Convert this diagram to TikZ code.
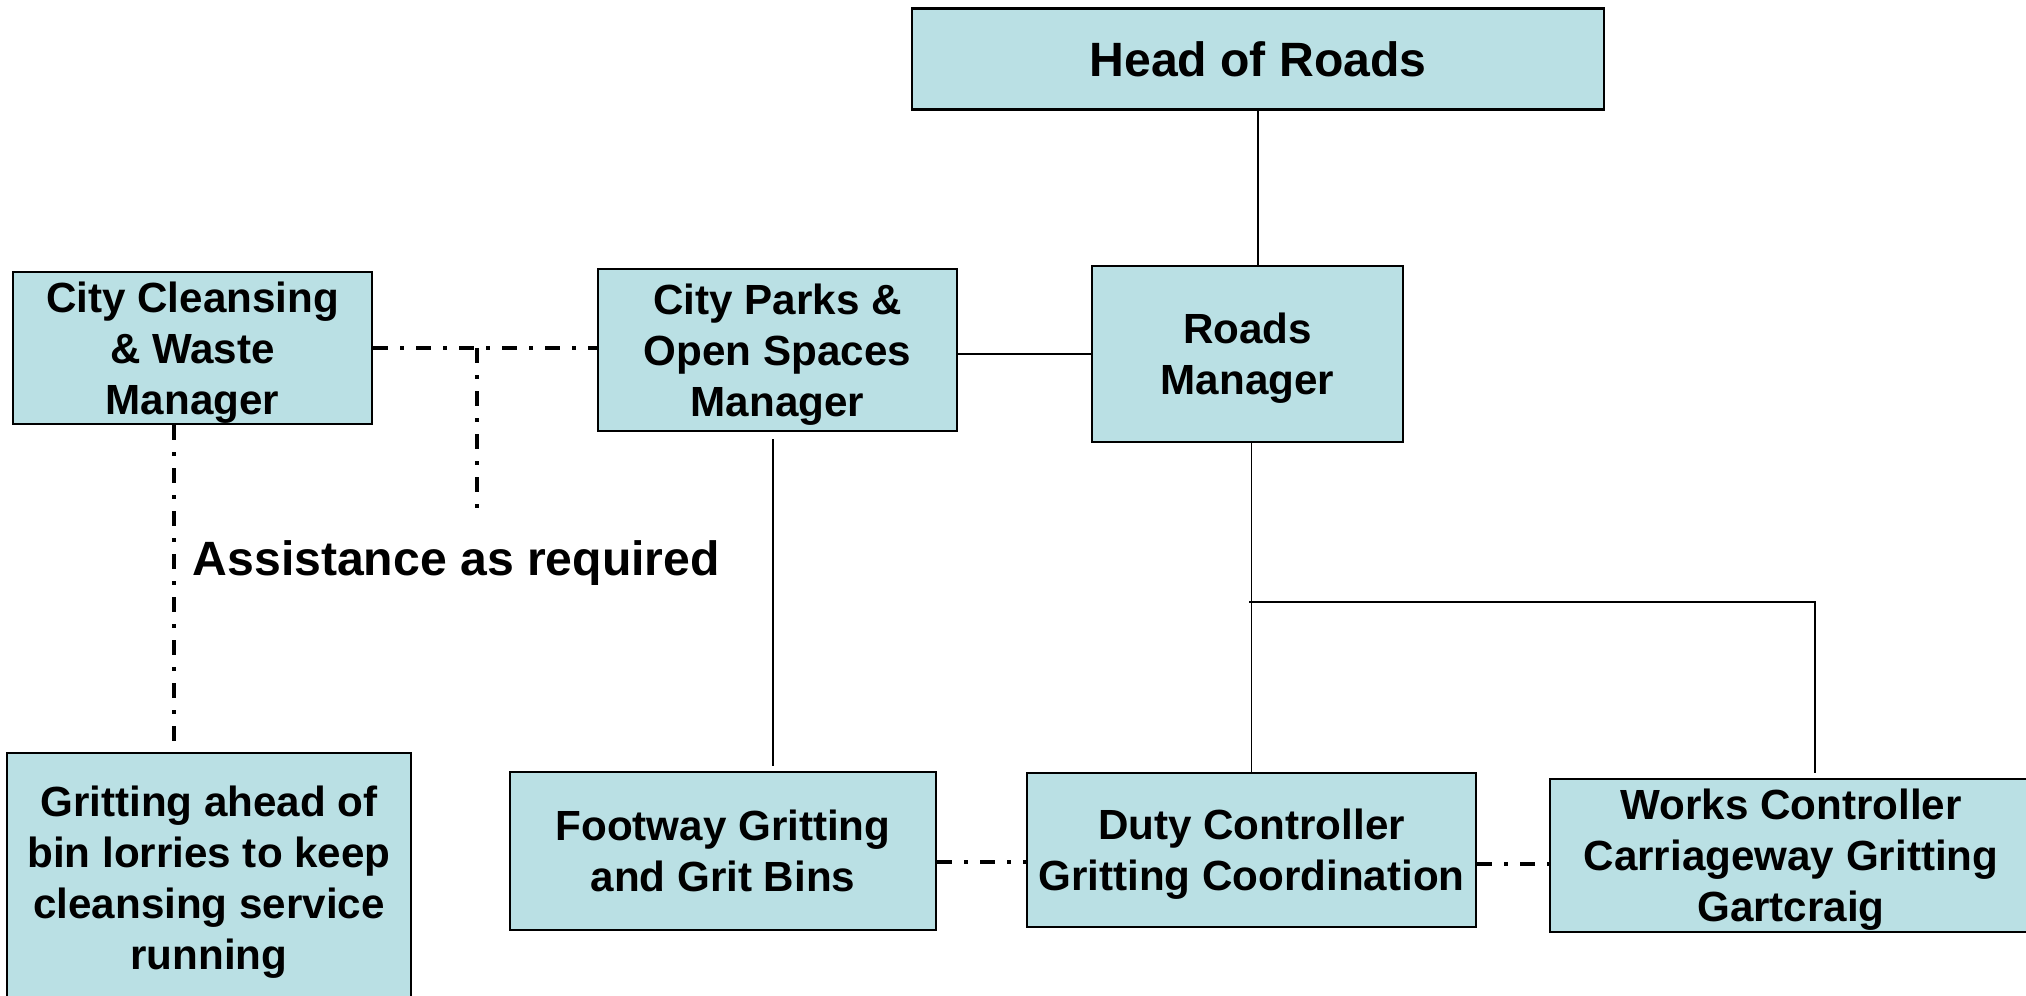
\documentclass[tikz,border=0pt]{standalone}
\usepackage{fontspec}
\setmainfont{Liberation Sans}
\definecolor{boxblue}{RGB}{186,224,228}

\begin{document}
\begin{tikzpicture}[
  box/.style={draw, line width=0.8pt, fill=boxblue, align=center, inner sep=0pt, text depth=0pt,
    font=\fontsize{12}{14.5}\selectfont\bfseries},
  link/.style={line width=0.45pt},
  dotlink/.style={line width=1.1pt, dash pattern=on 0.15cm off 0.12cm on 0.04cm off 0.12cm}]
  \useasboundingbox (0,0) rectangle (20.26,-9.95);
  \node[box, minimum width=6.92cm, minimum height=1.01cm,
    font=\fontsize{13.7}{16}\selectfont\bfseries] (head) at (12.58,-0.59) {Head of Roads};
  \node[box, minimum width=3.59cm, minimum height=1.52cm] (clean) at (1.925,-3.48) {City Cleansing\\\& Waste\\Manager};
  \node[box, minimum width=3.59cm, minimum height=1.62cm] (parks) at (7.775,-3.50) {City Parks \&\\Open Spaces\\Manager};
  \node[box, minimum width=3.11cm, minimum height=1.76cm] (roads) at (12.475,-3.54) {Roads\\Manager};
  \node[box, minimum width=4.04cm, minimum height=2.50cm] (ahead) at (2.09,-8.78) {Gritting ahead of\\bin lorries to keep\\cleansing service\\running};
  \node[box, minimum width=4.26cm, minimum height=1.58cm] (foot) at (7.23,-8.51) {Footway Gritting\\and Grit Bins};
  \node[box, minimum width=4.49cm, minimum height=1.54cm] (duty) at (12.515,-8.50) {Duty Controller\\Gritting Coordination};
  \node[box, minimum width=4.82cm, minimum height=1.53cm] (works) at (17.91,-8.555) {Works Controller\\Carriageway Gritting\\Gartcraig};
  \node[anchor=base west, inner sep=0pt, font=\fontsize{13.7}{16}\selectfont\bfseries] (assist) at (1.92,-5.75) {Assistance as required};

  \coordinate (split) at (12.49,-6.02);
  \coordinate (wtop) at ([xshift=0.24cm]works.north);
  \coordinate (help) at (4.77,-5.13);

  % solid lines
  \draw[link] (head.south) -- (head.south |- roads.north);
  \draw[link] (roads.west) -- (roads.west -| parks.east);
  \draw[link] (duty.north |- roads.south) -- (duty.north);
  \draw[link] (split) -| ([yshift=0.05cm]wtop);
  \draw[link, shorten <=0.07cm, shorten >=0.05cm] ([xshift=-0.045cm]parks.south) -- ([xshift=-0.045cm]parks.south |- foot.north);

  % dash-dot lines
  \draw[dotlink] (clean.east) -- (clean.east -| parks.west);
  \draw[dotlink] (help |- clean.east) -- (help);
  \draw[dotlink] ([xshift=-0.185cm]clean.south) -- ([xshift=-0.185cm,yshift=0.04cm]clean.south |- ahead.north);
  \draw[dotlink] ([yshift=-0.11cm]foot.east) -- ([yshift=-0.11cm]foot.east -| duty.west);
  \draw[dotlink] ([yshift=-0.14cm]duty.east) -- ([yshift=-0.14cm]duty.east -| works.west);
\end{tikzpicture}
\end{document}
